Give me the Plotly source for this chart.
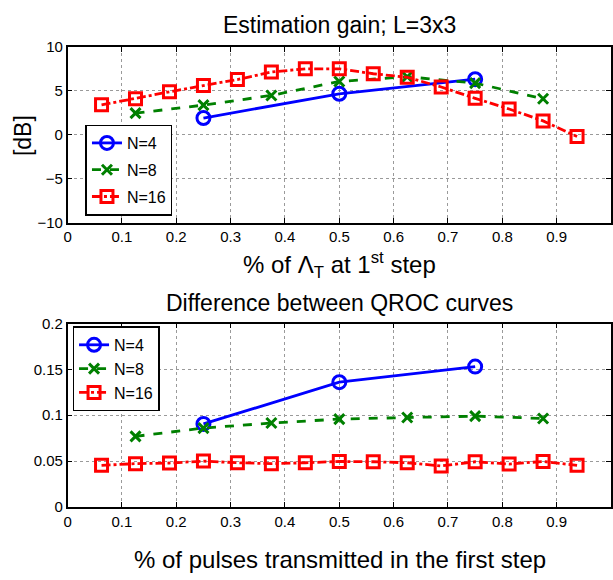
import plotly.graph_objects as go

# Data
x4 = [0.25, 0.5, 0.75]
x8 = [0.125, 0.25, 0.375, 0.5, 0.625, 0.75, 0.875]
x16 = [0.0625, 0.125, 0.1875, 0.25, 0.3125, 0.375, 0.4375, 0.5, 0.5625, 0.625, 0.6875, 0.75, 0.8125, 0.875, 0.9375]

gain4 = [1.9, 4.66, 6.32]
gain8 = [2.45, 3.37, 4.47, 6.06, 6.6, 5.87, 4.1]
gain16 = [3.4, 4.1, 4.88, 5.6, 6.28, 7.13, 7.5, 7.5, 6.94, 6.54, 5.43, 4.14, 2.93, 1.57, -0.2]

diff4 = [0.0905, 0.136, 0.153]
diff8 = [0.077, 0.086, 0.0915, 0.0958, 0.0975, 0.099, 0.0965]
diff16 = [0.0454, 0.0472, 0.0479, 0.050, 0.0482, 0.0472, 0.0482, 0.0496, 0.0493, 0.0482, 0.0447, 0.0493, 0.0468, 0.0496, 0.0454]

xticks = [0, 0.1, 0.2, 0.3, 0.4, 0.5, 0.6, 0.7, 0.8, 0.9, 1]
xticklabels = ["0", "0.1", "0.2", "0.3", "0.4", "0.5", "0.6", "0.7", "0.8", "0.9", "1"]
yticks_top = [-10, -5, 0, 5, 10]
yticks_bot = [0, 0.05, 0.1, 0.15, 0.2]
yticklabels_bot = ["0", "0.05", "0.1", "0.15", "0.2"]

BLUE = "#0000ff"
GREEN = "#008000"
RED = "#ff0000"
FONT = "Liberation Sans, Arial, sans-serif"

series = [
    ("N=4", BLUE, "solid", "circle-open", 13),
    ("N=8", GREEN, "dash", "x-thin-open", 10),
    ("N=16", RED, "dashdot", "square-open", 12),
]

fig = go.Figure()

top_data = [(x4, gain4), (x8, gain8), (x16, gain16)]
bot_data = [(x4, diff4), (x8, diff8), (x16, diff16)]

for (name, col, dash, sym, sz), (xx, yy) in zip(series, top_data):
    fig.add_trace(go.Scatter(
        x=xx, y=yy, mode="lines+markers", name=name,
        line=dict(color=col, width=2.8, dash=dash),
        marker=dict(symbol=sym, size=sz, color=col, line=dict(color=col, width=3)),
        xaxis="x", yaxis="y", legend="legend", legendgroup="t" + name,
    ))

for (name, col, dash, sym, sz), (xx, yy) in zip(series, bot_data):
    fig.add_trace(go.Scatter(
        x=xx, y=yy, mode="lines+markers", name=name,
        line=dict(color=col, width=2.8, dash=dash),
        marker=dict(symbol=sym, size=sz, color=col, line=dict(color=col, width=3)),
        xaxis="x2", yaxis="y2", legend="legend2", legendgroup="b" + name,
    ))

W, H = 613, 580
xdom = [64 / W, 611 / W]
ytop = [1 - 220 / H, 1 - 39 / H]
ybot = [1 - 513 / H, 1 - 324 / H]

axis_common = dict(
    showline=True, linecolor="black", linewidth=1.5, mirror="ticks",
    ticks="inside", ticklen=5, tickcolor="black", tickwidth=1,
    showgrid=True, gridcolor="#9a9a9a", griddash="dot", gridwidth=1,
    zeroline=False, tickfont=dict(family=FONT, size=15, color="black"),
)

fig.update_layout(
    width=W, height=H,
    margin=dict(l=0, r=0, t=0, b=0),
    paper_bgcolor="white", plot_bgcolor="white",
    font=dict(family=FONT, color="black"),
    xaxis=dict(domain=xdom, range=[0, 1], tickvals=xticks, ticktext=xticklabels,
               anchor="y", **axis_common),
    yaxis=dict(domain=ytop, range=[-10, 10], tickvals=yticks_top, anchor="x", **axis_common),
    xaxis2=dict(domain=xdom, range=[0, 1], tickvals=xticks, ticktext=xticklabels,
                anchor="y2", **axis_common),
    yaxis2=dict(domain=ybot, range=[0, 0.2], tickvals=yticks_bot, ticktext=yticklabels_bot,
                anchor="x2", **axis_common),
    legend=dict(
        x=82 / W, y=1 - 119 / H, xanchor="left", yanchor="top",
        bgcolor="white", bordercolor="black", borderwidth=1.5,
        font=dict(family=FONT, size=16), tracegroupgap=3,
        itemwidth=30,
    ),
    legend2=dict(
        x=69 / W, y=1 - 327 / H, xanchor="left", yanchor="top",
        bgcolor="white", bordercolor="black", borderwidth=1.5,
        font=dict(family=FONT, size=16), tracegroupgap=0,
        itemwidth=30,
    ),
    annotations=[
        dict(text="Estimation gain; L=3x3", x=338 / W, y=1 - 16 / H, xref="paper", yref="paper",
             showarrow=False, font=dict(size=23, family=FONT), xanchor="center", yanchor="middle"),
        dict(text="[dB]", x=19 / W, y=1 - 130 / H, xref="paper", yref="paper", textangle=-90,
             showarrow=False, font=dict(size=23, family=FONT), xanchor="center", yanchor="middle"),
        dict(text="% of Λ<sub>T</sub> at 1<sup>st</sup> step", x=338 / W, y=1 - 264 / H,
             xref="paper", yref="paper", showarrow=False, font=dict(size=24, family=FONT),
             xanchor="center", yanchor="middle"),
        dict(text="Difference between QROC curves", x=338 / W, y=1 - 303 / H, xref="paper", yref="paper",
             showarrow=False, font=dict(size=23, family=FONT), xanchor="center", yanchor="middle"),
        dict(text="% of pulses transmitted in the first step", x=338 / W, y=1 - 567 / H,
             xref="paper", yref="paper", showarrow=False, font=dict(size=24, family=FONT),
             xanchor="center", yanchor="middle"),
    ],
)

fig.write_html("out.html")
